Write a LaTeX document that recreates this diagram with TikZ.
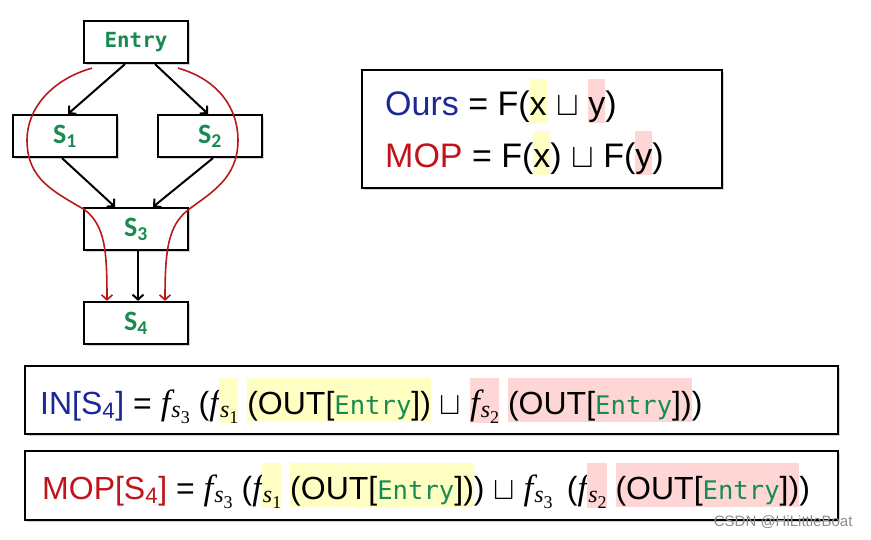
\RequirePackage{fix-cm}
\documentclass[tikz,border=0pt]{standalone}
\usepackage{fontspec}
\setmainfont{Liberation Sans}
\newfontfamily\monofont[Scale=0.8]{DejaVu Sans Mono}
\newfontfamily\calibfont{Carlito}
\newfontfamily\seriffont{Liberation Serif}
\usetikzlibrary{arrows.meta,shadows}
\definecolor{cfggreen}{RGB}{24,140,80}
\definecolor{oursblue}{RGB}{28,40,150}
\definecolor{mopred}{RGB}{192,20,28}
\definecolor{pathred}{RGB}{185,25,25}
\definecolor{hlyellow}{RGB}{255,255,196}
\definecolor{hlpink}{RGB}{255,214,214}
\newcommand\entrytt{{\monofont\color{cfggreen}Entry}}
\newcommand\hly[1]{{\setlength{\fboxsep}{0pt}\colorbox{hlyellow}{\rule[-8pt]{0pt}{44pt}#1}}}
\newcommand\hlp[1]{{\setlength{\fboxsep}{0pt}\colorbox{hlpink}{\rule[-8pt]{0pt}{44pt}#1}}}
\newcommand\fsym{{\seriffont\itshape\fontsize{35}{40}\selectfont f}}
\newcommand\ssub[1]{\kern1pt\raisebox{-3pt}{\seriffont\itshape\fontsize{24}{28}\selectfont s}\raisebox{-9pt}{\seriffont\fontsize{18}{20}\selectfont #1}}
\newcommand\lub{$\sqcup$}

\begin{document}
\begin{tikzpicture}[x=1pt,y=-1pt,
cfgbox/.style={draw,fill=white,line width=2.2pt,minimum width=104pt,minimum height=42pt,inner sep=0pt,text=cfggreen,drop shadow={shadow xshift=1.5pt,shadow yshift=-1.5pt,opacity=.35}},
stmt/.style={cfgbox,font=\calibfont\bfseries\fontsize{28}{32}\selectfont},
frame/.style={draw,fill=white,line width=2.6pt,inner sep=0pt,drop shadow={shadow xshift=2pt,shadow yshift=-2pt,opacity=.35}},
formula/.style={anchor=base west,inner sep=0pt,font=\fontsize{32}{38}\selectfont},
cmp/.style={formula,font=\fontsize{34}{40}\selectfont},
flow/.style={line width=2pt,-{Straight Barb[length=5pt,width=11pt]}},
redflow/.style={pathred,line width=1.6pt,-{Straight Barb[length=5pt,width=11pt]}}]
\useasboundingbox (0,0) rectangle (871,539);
\node[cfgbox,font=\monofont\bfseries\fontsize{26}{30}\selectfont] (entry) at (136,42) {Entry};
\node[stmt] (s1) at (65,136) {S\textsubscript{1}};
\node[stmt] (s2) at (210,136) {S\textsubscript{2}};
\node[stmt] (s3) at (136,229) {S\textsubscript{3}};
\node[stmt] (s4) at (136,323) {S\textsubscript{4}};
\draw[flow] ([xshift=-11pt]entry.south) -- ([xshift=3pt]s1.north);
\draw[flow] ([xshift=19pt]entry.south) -- ([xshift=-2pt]s2.north);
\draw[flow] ([xshift=-3pt]s1.south) -- ([xshift=-21pt]s3.north);
\draw[flow] ([xshift=3pt]s2.south) -- ([xshift=17pt]s3.north);
\draw[flow] ([xshift=2pt]s3.south) -- ([xshift=2pt]s4.north);
\draw[redflow] ([xshift=-44pt,yshift=-4pt]entry.south) .. controls (50,80) and (27,110) .. (27,140) .. controls (27,180) and (55,192) .. (85,210) .. controls (105,226) and (107,250) .. ([xshift=-29pt]s4.north);
\draw[redflow] ([xshift=42pt,yshift=-4pt]entry.south) .. controls (220,80) and (238,110) .. (238,140) .. controls (238,178) and (212,192) .. (188,210) .. controls (168,226) and (165,250) .. ([xshift=29pt]s4.north);
\node[frame,minimum width=360pt,minimum height=118pt] (cmpbox) at (542,129) {};
\node[cmp] (ours) at (385,115) {{\color{oursblue}Ours} = F(\hly{x} \lub{} \hlp{y})};
\node[cmp] (mop) at (385,167) {{\color{mopred}MOP} = F(\hly{x}) \lub{} F(\hlp{y})};
\node[frame,minimum width=813pt,minimum height=68pt] (inbox) at (431.5,400) {};
\node[formula] (intext) at (40,414) {{\color{oursblue}IN[S\textsubscript{4}]} = \fsym\ssub{3} (\fsym\hly{\ssub{1}} \hly{(OUT[\entrytt])} \lub{} \hlp{\fsym\ssub{2}} \hlp{(OUT[\entrytt])})};
\node[frame,minimum width=813pt,minimum height=69pt] (mopbox) at (431.5,485.5) {};
\node[formula] (moptext) at (42,499) {{\color{mopred}MOP[S\textsubscript{4}]} = \fsym\ssub{3} (\fsym\hly{\ssub{1}} \hly{(OUT[\entrytt])}) \lub{} \fsym\ssub{3} \,(\fsym\hlp{\ssub{2}} \hlp{(OUT[\entrytt])})};
\node[anchor=east,text=black!45,font=\fontsize{15}{18}\selectfont] (mark) at (856,522) {CSDN @HiLittleBoat};
\end{tikzpicture}
\end{document}
